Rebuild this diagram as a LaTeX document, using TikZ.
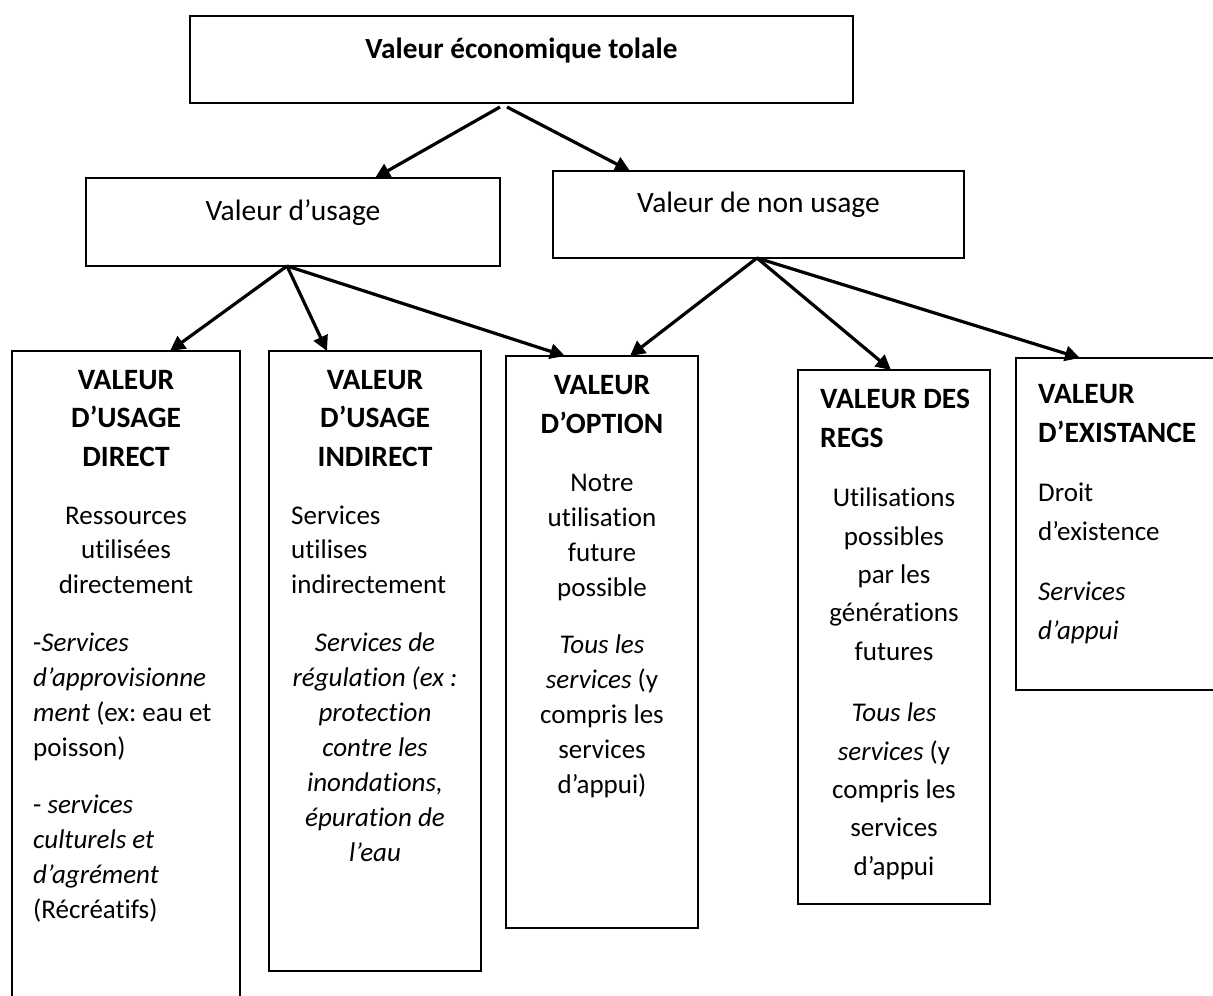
\documentclass[tikz,border=0pt]{standalone}
\usepackage{fontspec}
\setmainfont{Carlito}[Ligatures=NoCommon]
\frenchspacing
\usetikzlibrary{arrows.meta}
\tikzset{
  boxnode/.style={draw, line width=2.7pt, inner sep=0pt, outer sep=0pt},
  arr/.style={line width=3.2pt, -{Triangle[length=15pt,width=15pt]}},
  body/.style={inner sep=0pt, font=\fontsize{27}{35}\selectfont},
  bodywide/.style={inner sep=0pt, font=\fontsize{27}{38.3}\selectfont},
  head/.style={inner sep=0pt, font=\fontsize{29.5}{38.5}\selectfont\bfseries},
  toptext/.style={inner sep=0pt, font=\fontsize{29.5}{36}\selectfont},
  ctr/.style={align=center, anchor=base},
  lft/.style={align=left, anchor=base west}
}
\begin{document}
\begin{tikzpicture}[x=1pt,y=-1pt]
\useasboundingbox (0,0) rectangle (1213,996);
% boxes
\node[boxnode, minimum width=663pt, minimum height=87pt] (tot) at (521.5,59.5) {};
\node[boxnode, minimum width=414pt, minimum height=88pt] (usage) at (293,222) {};
\node[boxnode, minimum width=411pt, minimum height=87pt] (nonusage) at (758.5,214.5) {};
\node[boxnode, minimum width=228pt, minimum height=700pt] (direct) at (126,701) {};
\node[boxnode, minimum width=212pt, minimum height=620pt] (indirect) at (375,661) {};
\node[boxnode, minimum width=192pt, minimum height=572pt] (option) at (602,642) {};
\node[boxnode, minimum width=192pt, minimum height=534pt] (regs) at (894,637) {};
\node[boxnode, minimum width=214pt, minimum height=332pt] (exist) at (1123,524) {};
% titles
\node[toptext, ctr, font=\fontsize{29.3}{36}\selectfont\bfseries] (totT) at (521.5,58) {Valeur économique tolale};
\node[toptext, ctr] (usageT) at (293,220) {Valeur d’usage};
\node[toptext, ctr] (nonusageT) at (758.5,212) {Valeur de non usage};
% direct (anchor = baseline of last line)
\node[head, ctr] (h1) at (126,466) {VALEUR\\D’USAGE\\DIRECT};
\node[body, ctr, font=\fontsize{27}{34.5}\selectfont] (b1) at (126,593) {Ressources\\utilisées\\directement};
\node[body, lft] (c1) at (33,756) {-\textit{Services}\\\textit{d’approvisionne}\\\textit{ment} (ex: eau et\\poisson)};
\node[body, lft] (d1) at (33,918) {- \textit{services}\\\textit{culturels et}\\\textit{d’agrément}\\(Récréatifs)};
% indirect
\node[head, ctr] (h2) at (375,466) {VALEUR\\D’USAGE\\INDIRECT};
\node[body, lft, font=\fontsize{27}{34.5}\selectfont] (b2) at (291,593) {Services\\utilises\\indirectement};
\node[body, ctr, font=\fontsize{27}{35}\selectfont\itshape] (c2) at (375,861) {Services de\\régulation (ex :\\protection\\contre les\\inondations,\\épuration de\\l’eau};
% option
\node[head, ctr] (h3) at (602,433) {VALEUR\\D’OPTION};
\node[body, ctr] (b3) at (602,596) {Notre\\utilisation\\future\\possible};
\node[body, ctr] (c3) at (602,793) {\textit{Tous les}\\\textit{services} (y\\compris les\\services\\d’appui)};
% regs
\node[head, lft] (h4) at (820,447) {VALEUR DES\\REGS};
\node[bodywide, ctr] (b4) at (894,660) {Utilisations\\possibles\\par les\\générations\\futures};
\node[bodywide, ctr] (c4) at (894,875) {\textit{Tous les}\\\textit{services} (y\\compris les\\services\\d’appui};
% existence
\node[head, lft] (h5) at (1038,442) {VALEUR\\D’EXISTANCE};
\node[bodywide, lft] (b5) at (1038,540) {Droit\\d’existence};
\node[bodywide, lft, font=\fontsize{27}{38.3}\selectfont\itshape] (c5) at (1038,639) {Services\\d’appui};
% arrows
\draw[arr] ([xshift=-21.5pt,yshift=-4pt]tot.south) -- ([xshift=82pt]usage.north);
\draw[arr] ([xshift=-14.5pt,yshift=-4pt]tot.south) -- ([xshift=-128.5pt]nonusage.north);
\draw[arr] ([xshift=-6pt]usage.south) -- ([xshift=44pt]direct.north);
\draw[arr] ([xshift=-6pt]usage.south) -- ([xshift=-48pt]indirect.north);
\draw[arr] ([xshift=-6pt]usage.south) -- ([xshift=-37pt]option.north);
\draw[arr] ([xshift=-1.5pt]nonusage.south) -- ([xshift=28pt]option.north);
\draw[arr] ([xshift=-1.5pt]nonusage.south) -- ([xshift=-3pt]regs.north);
\draw[arr] ([xshift=-1.5pt]nonusage.south) -- ([xshift=-43pt]exist.north);
\end{tikzpicture}
\end{document}
